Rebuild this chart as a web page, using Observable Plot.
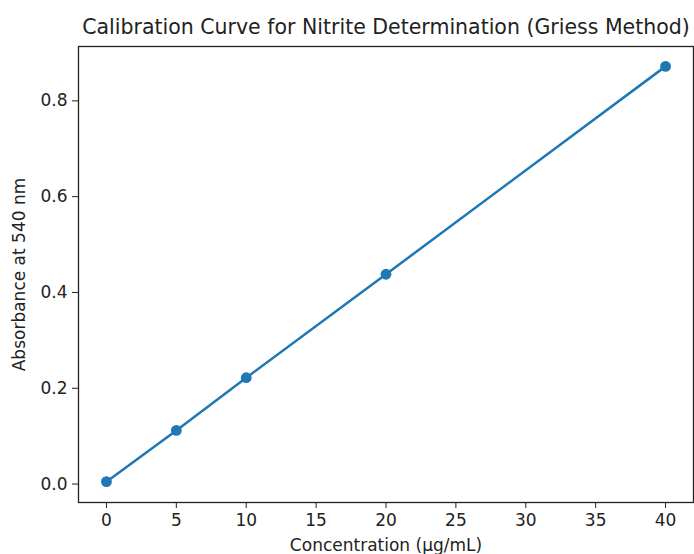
<!DOCTYPE html>
<html>
<head>
<meta charset="utf-8">
<script src="https://cdn.jsdelivr.net/npm/d3@7"></script>
<script src="https://cdn.jsdelivr.net/npm/@observablehq/plot@0.6"></script>
<style>
  html, body { margin: 0; padding: 0; background: #fff; }
  #chart { width: 694px; height: 554px; font-family: "DejaVu Sans", sans-serif; color: #222; overflow: hidden; }
  #title { height: 40px; box-sizing: border-box; padding-top: 15px; padding-left: 78px; width: 694px;
           text-align: center; font-size: 20.5px; line-height: 24px; white-space: nowrap; }
</style>
</head>
<body>
<div id="chart">
  <div id="title">Calibration Curve for Nitrite Determination (Griess Method)</div>
</div>
<script>
// Griess calibration standards: nitrite concentration and measured absorbance
const concentrations = [0, 5, 10, 20, 40];
const absorbances = [0.005, 0.112, 0.222, 0.438, 0.872];
const xTicks = [0, 5, 10, 15, 20, 25, 30, 35, 40];
const yTicks = [0.0, 0.2, 0.4, 0.6, 0.8];

const standards = concentrations.map((c, i) => ({concentration: c, absorbance: absorbances[i]}));
const blue = "#1f77b4";
const ink = "#222";

const plot = Plot.plot({
  width: 694,
  height: 514,
  marginTop: 6,
  marginRight: 1,
  marginBottom: 52,
  marginLeft: 78,
  style: {fontFamily: "DejaVu Sans, sans-serif", fontSize: "17px", color: ink, background: "#fff", overflow: "visible"},
  x: {domain: [-2, 42]},
  y: {domain: [-0.0385, 0.9135]},
  marks: [
    Plot.frame({stroke: ink, strokeWidth: 1.3}),
    Plot.axisX({
      ticks: xTicks, tickFormat: d => String(d), tickSize: 6, tickPadding: 5,
      stroke: ink, fontSize: 17,
      label: "Concentration (µg/mL)", labelAnchor: "center", labelArrow: "none", labelOffset: 48
    }),
    Plot.axisY({
      ticks: yTicks, tickFormat: d => d.toFixed(1), tickSize: 6, tickPadding: 5,
      stroke: ink, fontSize: 17,
      label: "Absorbance at 540 nm", labelAnchor: "center", labelArrow: "none", labelOffset: 66
    }),
    Plot.line(standards, {x: "concentration", y: "absorbance", stroke: blue, strokeWidth: 2.5}),
    Plot.dot(standards, {x: "concentration", y: "absorbance", fill: blue, r: 5.4})
  ]
});
document.getElementById("chart").appendChild(plot);
</script>
</body>
</html>
